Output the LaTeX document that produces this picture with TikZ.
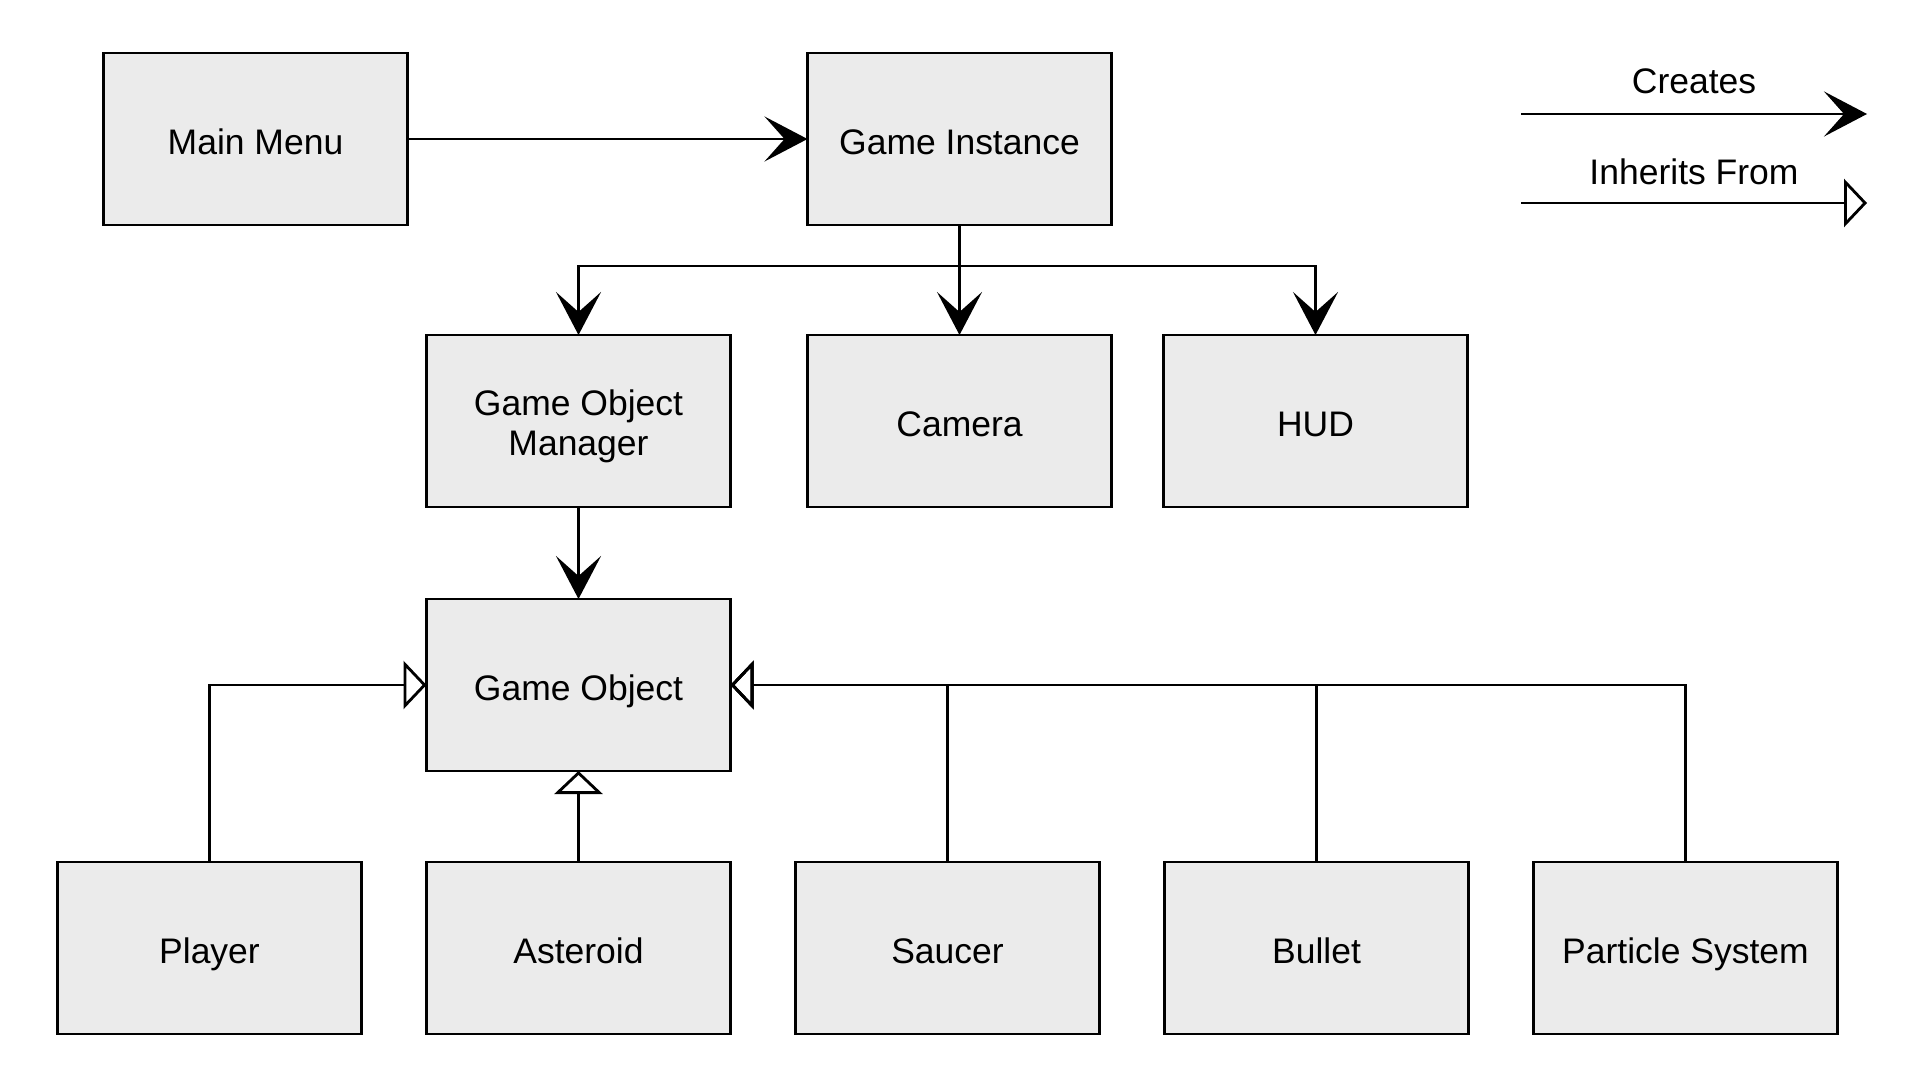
\documentclass[tikz,border=0pt]{standalone}
\usepackage{fontspec}
\setmainfont{Liberation Sans}
\usetikzlibrary{arrows.meta,positioning}
\definecolor{boxgray}{RGB}{235,235,235}

\begin{document}
\begin{tikzpicture}[
    node distance=0.65cm,
    every node/.style={font=\fontsize{10.1}{11.4}\selectfont},
    box/.style={draw, line width=0.8pt, fill=boxgray, align=center, minimum width=3.04cm, minimum height=1.72cm, inner sep=0pt, outer sep=0pt, text height=10pt, text depth=1.4pt},
    creates/.style={-{Stealth[length=4.3mm, width=4.5mm, inset=2mm]}, line width=0.8pt},
    inherits/.style={-{Triangle[open, length=2.3mm, width=4.8mm]}, line width=0.8pt}
]
\useasboundingbox (0,0) rectangle (19.2,-10.8);

\node[box] (menu) at (2.555,-1.39) {Main Menu};
\node[box, right=4.0cm of menu] (inst) {Game Instance};
\node[box, below=1.1cm of inst] (camera) {Camera};
\node[box, left=0.77cm of camera, text height=21.1pt] (gom) {Game Object\\Manager};
\node[box, right=0.52cm of camera] (hud) {HUD};
\node[box, below=0.92cm of gom] (obj) {Game Object};
\node[box, below=0.91cm of obj] (asteroid) {Asteroid};
\node[box, left=of asteroid] (player) {Player};
\node[box, right=of asteroid] (saucer) {Saucer};
\node[box, right=of saucer] (bullet) {Bullet};
\node[box, right=of bullet] (particles) {Particle System};

% creates
\draw[creates] (menu) -- (inst);
\draw[creates] (inst) -- (camera);
\draw[creates] (inst.south) -- ++(0,-0.41) -| (gom.north);
\draw[creates] (inst.south) -- ++(0,-0.41) -| (hud.north);
\draw[creates] (gom) -- (obj);

% inherits
\draw[inherits] (player.north) |- (obj.west);
\draw[inherits] (asteroid) -- (obj);
\draw[inherits] (saucer.north) |- (obj.east);
\draw[inherits] (bullet.north) |- (obj.east);
\draw[inherits] (particles.north) |- (obj.east);

% legend
\coordinate (c1) at (15.21,-1.14);
\coordinate (c2) at (18.67,-1.14);
\coordinate (i1) at (15.21,-2.03);
\coordinate (i2) at (18.67,-2.03);
\draw[creates] (c1) -- node[above=0.07cm] (lcreates) {Creates} (c2);
\draw[inherits] (i1) -- node[above=0.05cm] (linherits) {Inherits From} (i2);
\end{tikzpicture}
\end{document}
